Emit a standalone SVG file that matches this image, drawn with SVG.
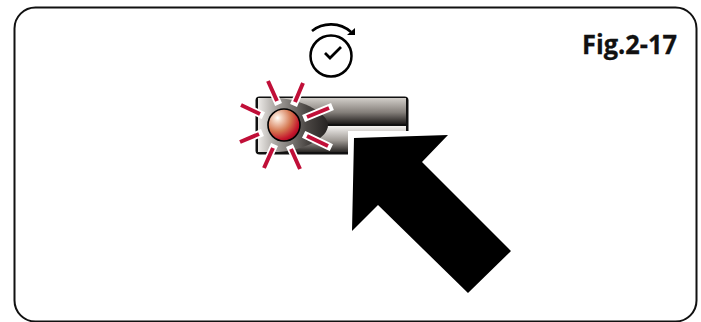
<svg xmlns="http://www.w3.org/2000/svg" width="701" height="322" viewBox="0 0 701 322">
<style>
.ray-o{stroke:#fff;stroke-width:7.500;fill:none;stroke-linecap:square}
.ray{stroke:#c00f38;stroke-width:4;fill:none}
.ink{stroke:#000;fill:none}
</style>
<defs>
<linearGradient id="bandA" x1="0" y1="0" x2="0" y2="1"><stop offset="0" stop-color="#d2cec9"/><stop offset=".55" stop-color="#85807b"/><stop offset="1" stop-color="#1e1b1a"/></linearGradient>
<linearGradient id="bandB" x1="0" y1="0" x2="0" y2="1"><stop offset="0" stop-color="#f5f3f1"/><stop offset=".55" stop-color="#a09b96"/><stop offset="1" stop-color="#2a2725"/></linearGradient>
<linearGradient id="side" x1="0" y1="0" x2="1" y2="0"><stop offset="0" stop-color="#eceae7"/><stop offset=".25" stop-color="#a9a5a1"/><stop offset=".7" stop-color="#4a4643"/><stop offset="1" stop-color="#262322"/></linearGradient>
<radialGradient id="led" cx=".3" cy=".28" r=".85"><stop offset="0" stop-color="#fff"/><stop offset=".1" stop-color="#f8e0d0"/><stop offset=".5" stop-color="#d4754f"/><stop offset=".8" stop-color="#c5152c"/><stop offset="1" stop-color="#8a0a1c"/></radialGradient>
</defs>
<rect width="701" height="322" fill="#fff"/>
<g id="frame"><rect x="14.500" y="7.500" width="682" height="314" rx="21" fill="#fff" stroke="#111" stroke-width="2"/></g>
<g id="timer-icon">
<circle class="ink" cx="331" cy="56" r="20.500" stroke-width="2.500"/>
<path class="ink" stroke-width="2.800" d="M325 53l5 5 11-11"/>
<path class="ink" stroke-width="2.600" d="M312 31C323 22 340 22 351 32"/>
<path d="M355 28v7h-8z"/>
</g>
<g id="indicator">
<rect x="255.500" y="96.500" width="153" height="58" rx="4" fill="#111"/>
<rect x="258" y="98" width="148" height="26" fill="url(#bandA)"/>
<rect x="258" y="126" width="148" height="26" fill="url(#bandB)"/>
<path d="M258 98H278C305 100 328 114 328 125C328 138 305 150 278 152H258Z" fill="url(#side)"/>
<rect x="348" y="131" width="66" height="30" fill="#fff"/>
<g id="rays">
<path class="ray-o" d="M268 81l9 20M303 83l-8 19M329 108l-22 9M307 136l21 10M291 149l9 20M273 148l-9 20M259 134l-19 8M260 114l-19-9"/>
<path class="ray" d="M268 81l9 20M303 83l-8 19M329 108l-22 9M307 136l21 10M291 149l9 20M273 148l-9 20M259 134l-19 8M260 114l-19-9"/>
</g>
<circle cx="284" cy="125" r="16" fill="url(#led)" stroke="#000" stroke-width="1.600"/>
</g>
<g id="arrow">
<path d="M354 138L448 135L422 162L511 251L468 293L378 205L352 231Z" fill="#000"/>
</g>
<text id="fig-label" x="582" y="54" font-family="'Open Sans',sans-serif" font-weight="700" font-size="26" textLength="95" lengthAdjust="spacingAndGlyphs" stroke="#111" stroke-width=".3" fill="#111">Fig.2-17</text>
</svg>
